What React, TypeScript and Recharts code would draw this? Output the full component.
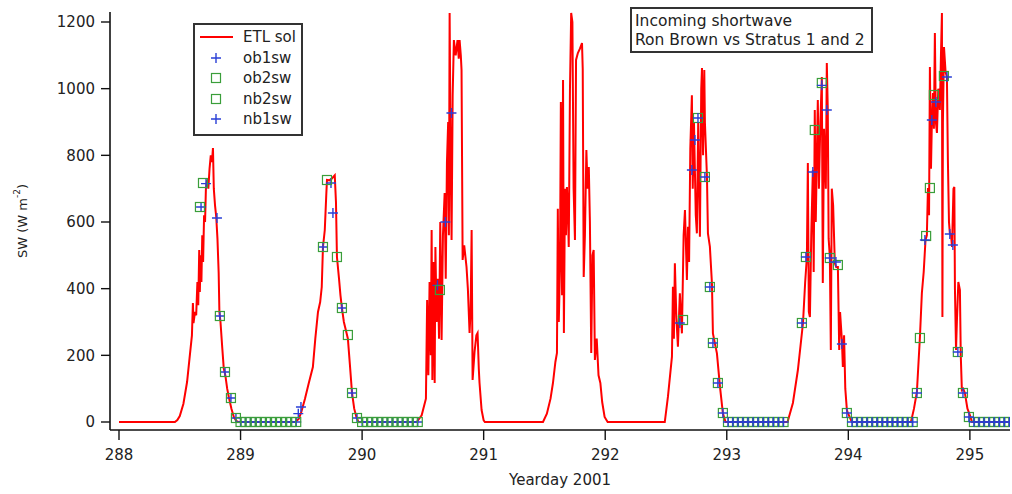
import React from 'react';
import { ComposedChart, Line, Scatter, XAxis, YAxis, Legend } from 'recharts';

type P = [number, number];

const xTicks = [288, 289, 290, 291, 292, 293, 294, 295];
const yTicks = [0, 200, 400, 600, 800, 1000, 1200];
const titleLines = ['Incoming shortwave', 'Ron Brown vs Stratus 1 and 2'];
const xLabel = 'Yearday 2001';

// ETL sol (ship) shortwave, [yearday, W m-2]
const etlDay288: P[] = [
  [288.0, 0], [288.46, 0], [288.48, 6], [288.5, 18], [288.53, 55], [288.56, 120], [288.58, 190], [288.6, 260],
  [288.608, 357], [288.613, 297], [288.625, 330], [288.635, 320], [288.645, 420], [288.652, 350], [288.66, 516],
  [288.665, 390], [288.672, 500], [288.678, 420], [288.685, 560], [288.692, 480], [288.7, 620], [288.708, 600],
  [288.715, 700], [288.725, 726], [288.735, 700], [288.745, 760], [288.755, 800], [288.765, 780], [288.773, 822],
  [288.78, 700], [288.79, 650], [288.8, 615], [288.81, 550], [288.82, 447], [288.826, 330], [288.835, 300],
  [288.85, 220], [288.862, 160], [288.875, 140], [288.89, 100], [288.905, 72], [288.925, 40], [288.945, 15],
  [288.965, 3], [288.98, 0],
];
const etlDay289: P[] = [
  [289.45, 0], [289.48, 10], [289.5, 30], [289.53, 70], [289.56, 115], [289.595, 165], [289.615, 250], [289.637, 330],
  [289.655, 360], [289.668, 405], [289.678, 525], [289.693, 576], [289.705, 680], [289.711, 726], [289.73, 725],
  [289.75, 730], [289.775, 740], [289.785, 660], [289.793, 495], [289.81, 430], [289.822, 380], [289.834, 342],
  [289.85, 300], [289.87, 270], [289.883, 250], [289.9, 170], [289.917, 87], [289.935, 40], [289.955, 12], [289.97, 0],
];
const etlDay290: P[] = [
  [290.449, 0], [290.49, 20], [290.525, 70], [290.535, 366], [290.545, 140], [290.555, 420], [290.565, 200],
  [290.572, 576], [290.578, 126], [290.588, 480], [290.597, 117], [290.603, 525], [290.613, 300], [290.623, 430],
  [290.633, 250], [290.643, 600], [290.654, 246], [290.665, 560], [290.679, 687], [290.688, 430], [290.698, 780],
  [290.708, 900], [290.714, 560], [290.72, 1227], [290.728, 800], [290.736, 546], [290.745, 980], [290.755, 1146],
  [290.77, 1100], [290.785, 1146], [290.795, 1090], [290.802, 1146], [290.812, 1100], [290.818, 1056], [290.827, 486],
  [290.84, 530], [290.859, 465], [290.87, 400], [290.884, 267], [290.893, 340], [290.901, 576], [290.909, 126],
  [290.925, 210], [290.94, 260], [290.95, 267], [290.96, 160], [290.966, 117], [290.983, 36], [291.0, 5], [291.01, 0],
];
const etlDay291: P[] = [
  [291.488, 0], [291.52, 25], [291.55, 70], [291.57, 117], [291.59, 180], [291.603, 207], [291.61, 640], [291.618, 300],
  [291.628, 465], [291.635, 960], [291.645, 380], [291.653, 1026], [291.66, 267], [291.669, 700], [291.677, 560],
  [291.685, 705], [291.695, 600], [291.7, 525], [291.71, 1000], [291.72, 1227], [291.73, 1200], [291.74, 700],
  [291.751, 546], [291.76, 1086], [291.775, 1107], [291.792, 1120], [291.809, 1137], [291.815, 1060], [291.823, 435],
  [291.833, 560], [291.845, 816], [291.855, 700], [291.865, 765], [291.874, 600], [291.885, 207], [291.895, 500],
  [291.905, 516], [291.915, 186], [291.93, 250], [291.945, 140], [291.96, 117], [291.975, 60], [291.995, 15], [292.02, 0],
];
const etlDay292: P[] = [
  [292.49, 0], [292.516, 76], [292.549, 196], [292.557, 406], [292.565, 250], [292.573, 476], [292.585, 316],
  [292.598, 226], [292.614, 386], [292.631, 266], [292.645, 560], [292.656, 636], [292.672, 426], [292.681, 586],
  [292.69, 480], [292.7, 820], [292.713, 980], [292.72, 700], [292.73, 900], [292.745, 620], [292.754, 566],
  [292.765, 900], [292.779, 556], [292.79, 1000], [292.796, 1062], [292.805, 800], [292.815, 1056], [292.82, 900],
  [292.837, 736], [292.845, 566], [292.861, 526], [292.878, 416], [292.886, 266], [292.9, 240], [292.919, 206],
  [292.944, 106], [292.968, 26], [292.99, 0],
];
const etlDay293: P[] = [
  [293.5, 0], [293.544, 57], [293.585, 156], [293.627, 297], [293.645, 420], [293.659, 495], [293.667, 777],
  [293.675, 330], [293.684, 315], [293.695, 560], [293.708, 756], [293.715, 450], [293.724, 936], [293.732, 600],
  [293.749, 966], [293.758, 700], [293.77, 900], [293.782, 1035], [293.79, 417], [293.8, 880], [293.815, 700],
  [293.823, 1077], [293.831, 936], [293.838, 550], [293.848, 495], [293.856, 216], [293.864, 700], [293.875, 650],
  [293.889, 477], [293.9, 465], [293.914, 465], [293.925, 216], [293.932, 330], [293.947, 246], [293.955, 165],
  [293.965, 260], [293.975, 100], [293.988, 36], [293.996, 27], [294.029, 0],
];
const etlDay294: P[] = [
  [294.515, 0], [294.54, 40], [294.564, 90], [294.589, 255], [294.605, 387], [294.62, 450], [294.635, 546],
  [294.646, 560], [294.655, 702], [294.664, 620], [294.671, 1065], [294.68, 760], [294.687, 897], [294.696, 987],
  [294.704, 880], [294.712, 1167], [294.72, 900], [294.729, 867], [294.74, 1000], [294.753, 936], [294.762, 1100],
  [294.77, 1227], [294.774, 315], [294.778, 900], [294.787, 1125], [294.8, 1050], [294.811, 1035], [294.819, 786],
  [294.828, 600], [294.835, 567], [294.845, 560], [294.853, 525], [294.865, 700], [294.872, 705], [294.877, 400],
  [294.886, 216], [294.893, 300], [294.905, 420], [294.918, 396], [294.925, 200], [294.934, 96], [294.945, 100],
  [294.959, 87], [294.98, 40], [295.0, 21], [295.017, 0], [295.33, 0],
];

// Stratus 1 buoy (old buoy) hourly values
const obNight289: P[] = [
  [289.0, 0], [289.042, 0], [289.083, 0], [289.125, 0], [289.167, 0], [289.208, 0], [289.25, 0], [289.292, 0],
  [289.333, 0], [289.375, 0], [289.417, 0], [289.458, 0],
];
const obNight290: P[] = [
  [290.0, 0], [290.042, 0], [290.083, 0], [290.125, 0], [290.167, 0], [290.208, 0], [290.25, 0], [290.292, 0],
  [290.333, 0], [290.375, 0], [290.417, 0], [290.458, 0],
];
const ob1Day288: P[] = [[288.675, 645], [288.716, 715], [288.806, 612], [288.83, 318], [288.872, 150], [288.921, 72], [288.962, 12]];
const ob1Day289: P[] = [[289.475, 25], [289.497, 45], [289.678, 525], [289.744, 717], [289.76, 627], [289.834, 342], [289.917, 87], [289.958, 12]];
const ob1Day290: P[] = [[290.62, 410], [290.685, 600], [290.735, 927]];
const ob2Day288: P[] = [[288.666, 645], [288.691, 717], [288.83, 318], [288.872, 150], [288.921, 72], [288.962, 12]];
const ob2Day289: P[] = [[289.678, 525], [289.711, 726], [289.793, 495], [289.834, 342], [289.883, 261], [289.917, 87], [289.958, 12]];
const ob2Day290: P[] = [[290.64, 396]];

// Stratus 2 buoy (new buoy) hourly values
const nbNight293: P[] = [
  [293.01, 0], [293.05, 0], [293.092, 0], [293.133, 0], [293.175, 0], [293.217, 0], [293.258, 0], [293.3, 0],
  [293.342, 0], [293.383, 0], [293.425, 0], [293.467, 0],
];
const nbNight294: P[] = [
  [294.03, 0], [294.071, 0], [294.113, 0], [294.155, 0], [294.196, 0], [294.238, 0], [294.28, 0], [294.321, 0],
  [294.363, 0], [294.405, 0], [294.446, 0], [294.488, 0], [294.53, 0],
];
const nbNight295: P[] = [
  [295.033, 0], [295.075, 0], [295.117, 0], [295.158, 0], [295.2, 0], [295.242, 0], [295.283, 0], [295.325, 0],
];
const nb2Day292: P[] = [[292.64, 306], [292.763, 912], [292.82, 735], [292.861, 405], [292.886, 237], [292.927, 117], [292.968, 27]];
const nb2Day293: P[] = [[293.618, 297], [293.651, 495], [293.724, 876], [293.782, 1017], [293.848, 492], [293.914, 471], [293.988, 27]];
const nb2Day294: P[] = [[294.564, 87], [294.589, 252], [294.64, 558], [294.671, 702], [294.704, 981], [294.786, 1038], [294.901, 210], [294.943, 87], [294.992, 15]];
const nb1Day292: P[] = [[292.614, 297], [292.713, 756], [292.738, 846], [292.763, 912], [292.82, 735], [292.861, 405], [292.886, 237], [292.927, 117], [292.968, 27]];
const nb1Day293: P[] = [[293.618, 297], [293.651, 495], [293.708, 750], [293.782, 1010], [293.823, 936], [293.848, 492], [293.898, 480], [293.947, 234], [293.988, 27]];
const nb1Day294: P[] = [[294.564, 87], [294.63, 546], [294.687, 906], [294.72, 960], [294.811, 1035], [294.835, 564], [294.86, 531], [294.901, 210], [294.943, 87], [294.992, 15]];

const toPts = (a: P[]) => a.map(([t, v]) => ({ t, v }));

const etlSol = toPts([...etlDay288, ...etlDay289, ...etlDay290, ...etlDay291, ...etlDay292, ...etlDay293, ...etlDay294]);
const ob1sw = toPts([...ob1Day288, ...obNight289, ...ob1Day289, ...obNight290, ...ob1Day290]);
const ob2sw = toPts([...ob2Day288, ...obNight289, ...ob2Day289, ...obNight290, ...ob2Day290]);
const nb2sw = toPts([...nb2Day292, ...nbNight293, ...nb2Day293, ...nbNight294, ...nb2Day294, ...nbNight295]);
const nb1sw = toPts([...nb1Day292, ...nbNight293, ...nb1Day293, ...nbNight294, ...nb1Day294, ...nbNight295]);

const FONT = "'DejaVu Sans', Verdana, sans-serif";
const RED = '#ff0000';
const BLUE = '#2a3fd6';
const GREEN = '#3a9e3a';
const AXIS = '#111';

const PlusShape = (props: any) => {
  const { cx, cy } = props;
  if (cx == null || cy == null) return null;
  const s = 5;
  return <path d={`M${cx - s},${cy}H${cx + s}M${cx},${cy - s}V${cy + s}`} stroke={BLUE} strokeWidth={1.4} fill="none" />;
};
const SquareShape = (props: any) => {
  const { cx, cy } = props;
  if (cx == null || cy == null) return null;
  const s = 4.5;
  return <rect x={cx - s} y={cy - s} width={2 * s} height={2 * s} fill="none" stroke={GREEN} strokeWidth={1.2} />;
};

const legendRows = [
  { name: 'ETL sol', kind: 'line' },
  { name: 'ob1sw', kind: 'plus' },
  { name: 'ob2sw', kind: 'square' },
  { name: 'nb2sw', kind: 'square' },
  { name: 'nb1sw', kind: 'plus' },
];

const LegendBox = () => (
  <div
    style={{
      border: '2px solid #333',
      background: '#fff',
      width: 106,
      paddingTop: 2,
      paddingBottom: 4,
      fontFamily: FONT,
      fontSize: 15,
      color: '#222',
      overflow: 'hidden',
    }}
  >
    {legendRows.map((r) => (
      <div key={r.name} style={{ height: 20.5, display: 'flex', alignItems: 'center' }}>
        <svg width={48} height={20} style={{ flex: 'none', display: 'block' }}>
          {r.kind === 'line' && <line x1={5} y1={10} x2={38} y2={10} stroke={RED} strokeWidth={2} />}
          {r.kind === 'plus' && <path d="M16,10H26M21,5V15" stroke={BLUE} strokeWidth={1.4} fill="none" />}
          {r.kind === 'square' && <rect x={16.5} y={5.5} width={9} height={9} stroke={GREEN} strokeWidth={1.2} fill="none" />}
        </svg>
        <span style={{ whiteSpace: 'nowrap', lineHeight: '20px' }}>{r.name}</span>
      </div>
    ))}
  </div>
);

const YLabel = (props: any) => {
  const vb = props.viewBox || { x: 0, y: 12, width: 110, height: 418 };
  const cx = vb.x + 22;
  const cy = vb.y + vb.height / 2;
  return (
    <text
      x={cx}
      y={cy}
      transform={`rotate(-90 ${cx} ${cy})`}
      textAnchor="middle"
      dominantBaseline="central"
      fontSize={13}
      fontFamily={FONT}
      fill="#222"
    >
      SW (W m<tspan dy={-5} fontSize={9}>-2</tspan>
      <tspan dy={5}>)</tspan>
    </text>
  );
};

export default function App() {
  return (
    <div style={{ position: 'absolute', left: 0, top: 0, width: 1012, height: 494, background: '#fff' }}>
      <ComposedChart width={1012} height={494} margin={{ top: 12, right: 2, bottom: 0, left: 0 }}>
        <XAxis
          type="number"
          dataKey="t"
          domain={[287.926, 295.33]}
          ticks={xTicks}
          allowDataOverflow
          height={64}
          tickSize={10}
          tickMargin={9}
          axisLine={{ stroke: AXIS, strokeWidth: 1.6 }}
          tickLine={{ stroke: AXIS, strokeWidth: 1.4 }}
          tick={{ fontSize: 15, fontFamily: FONT, fill: '#222' }}
          label={{ value: xLabel, position: 'insideBottom', offset: 9, fontSize: 15, fontFamily: FONT, fill: '#222' }}
        />
        <YAxis
          type="number"
          dataKey="v"
          domain={[-24, 1230]}
          ticks={yTicks}
          allowDataOverflow
          width={110}
          tickSize={9}
          tickMargin={6}
          axisLine={{ stroke: AXIS, strokeWidth: 1.6 }}
          tickLine={{ stroke: AXIS, strokeWidth: 1.4 }}
          tick={{ fontSize: 15, fontFamily: FONT, fill: '#222' }}
          label={<YLabel />}
        />
        <Legend
          layout="vertical"
          align="center"
          verticalAlign="middle"
          wrapperStyle={{ left: 193, top: 23, width: 'auto', height: 'auto' }}
          content={() => <LegendBox />}
        />
        <Line
          data={etlSol}
          dataKey="v"
          name="ETL sol"
          type="linear"
          stroke={RED}
          strokeWidth={2}
          dot={false}
          isAnimationActive={false}
        />
        <Scatter data={ob1sw} dataKey="v" name="ob1sw" fill={BLUE} shape={<PlusShape />} isAnimationActive={false} />
        <Scatter data={ob2sw} dataKey="v" name="ob2sw" fill={GREEN} shape={<SquareShape />} isAnimationActive={false} />
        <Scatter data={nb2sw} dataKey="v" name="nb2sw" fill={GREEN} shape={<SquareShape />} isAnimationActive={false} />
        <Scatter data={nb1sw} dataKey="v" name="nb1sw" fill={BLUE} shape={<PlusShape />} isAnimationActive={false} />
      </ComposedChart>
      <div
        style={{
          position: 'absolute',
          left: 630,
          top: 7,
          width: 236,
          border: '2px solid #333',
          background: '#fff',
          padding: '3px 0 1px 3px',
          fontFamily: FONT,
          fontSize: 15.5,
          lineHeight: '19px',
          color: '#222',
          whiteSpace: 'nowrap',
        }}
      >
        {titleLines.map((l) => (
          <div key={l}>{l}</div>
        ))}
      </div>
    </div>
  );
}
